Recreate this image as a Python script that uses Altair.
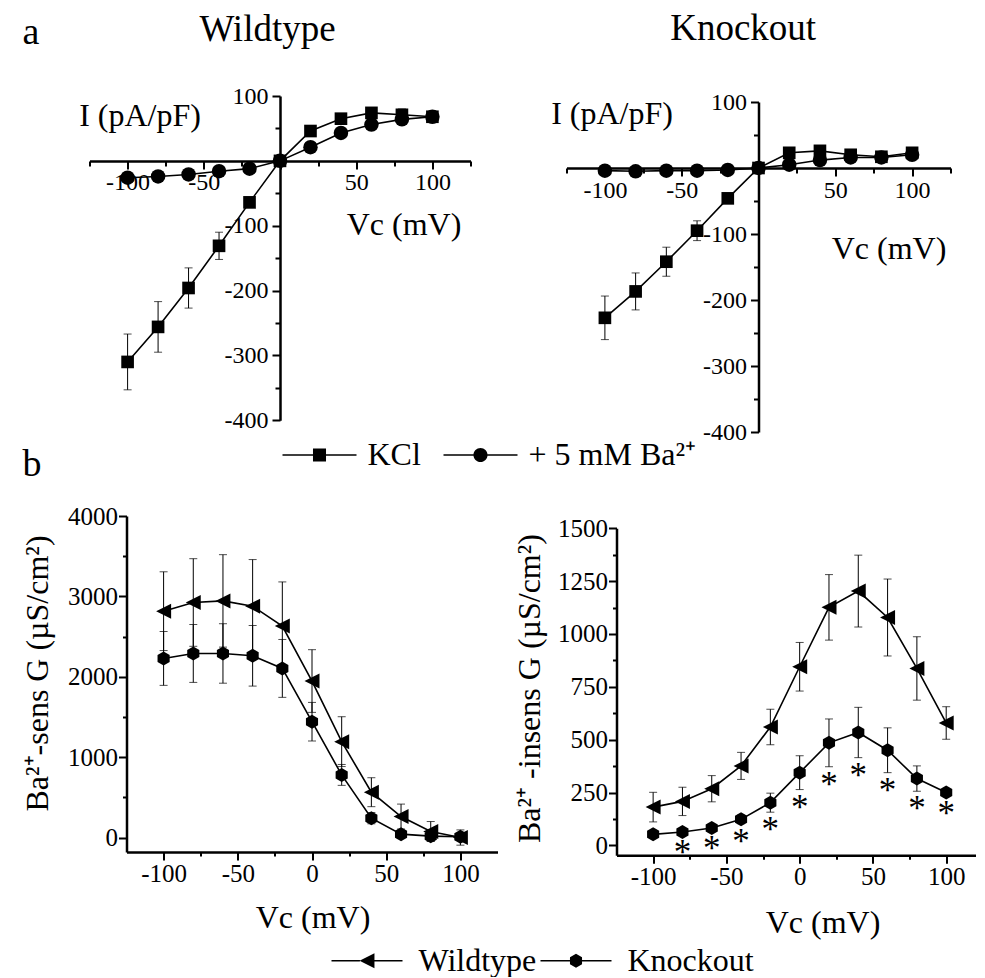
import altair as alt
import pandas as pd

FONT = "Liberation Serif"

vc = [-100, -80, -60, -40, -20, 0, 20, 40, 60, 80, 100]

# panel a - Wildtype
wt_kcl     = [-310, -256, -196, -131, -64, 0, 46, 65, 74, 71, 68]
wt_kcl_err = [43, 39, 31, 21, 8, 2, 5, 6, 8, 9, 9]
wt_ba      = [-26, -24, -21, -16, -12, 0, 21, 43, 56, 64, 68]
wt_ba_err  = [6, 4, 4, 4, 3, 2, 3, 4, 5, 5, 6]
# panel a - Knockout
ko_kcl     = [-227, -187, -142, -95, -46, 0, 23, 26, 20, 17, 23]
ko_kcl_err = [33, 28, 22, 15, 6, 2, 4, 4, 4, 4, 4]
ko_ba      = [-4, -5, -4, -4, -3, 0, 5, 12, 16, 16, 20]
ko_ba_err  = [3, 3, 3, 3, 3, 2, 3, 3, 3, 3, 3]
# panel b - Ba-sensitive conductance
sens_wt     = [2816, 2924, 2944, 2878, 2630, 1947, 1193, 564, 261, 75, 0]
sens_wt_err = [490, 545, 575, 580, 550, 390, 310, 180, 155, 124, 95]
sens_ko     = [2228, 2290, 2290, 2261, 2104, 1441, 779, 241, 42, 17, 10]
sens_ko_err = [335, 360, 370, 377, 360, 240, 130, 70, 30, 60, 40]
# panel b - Ba-insensitive conductance
ins_wt     = [181, 208, 268, 376, 560, 845, 1126, 1203, 1078, 837, 579]
ins_wt_err = [70, 67, 62, 64, 84, 115, 155, 170, 182, 150, 77]
ins_ko     = [52, 63, 82, 123, 202, 344, 485, 534, 450, 316, 250]
ins_ko_err = [15, 15, 15, 20, 45, 80, 113, 119, 106, 60, 15]
ins_sig    = [False, True, True, True, True, True, True, True, True, True, True]

cond_labels = ["KCl", "+ 5 mM Ba²⁺"]
geno_labels = ["Wildtype", "Knockout"]


def make_df(series):
    rows = []
    for name, vals, errs in series:
        for x, v, e in zip(vc, vals, errs):
            rows.append({"vc": x, "val": v, "lo": v - e, "hi": v + e, "series": name})
    return pd.DataFrame(rows)


df_wt = make_df([(cond_labels[0], wt_kcl, wt_kcl_err), (cond_labels[1], wt_ba, wt_ba_err)])
df_ko = make_df([(cond_labels[0], ko_kcl, ko_kcl_err), (cond_labels[1], ko_ba, ko_ba_err)])
df_sens = make_df([(geno_labels[0], sens_wt, sens_wt_err), (geno_labels[1], sens_ko, sens_ko_err)])
df_ins = make_df([(geno_labels[0], ins_wt, ins_wt_err), (geno_labels[1], ins_ko, ins_ko_err)])
df_ast = pd.DataFrame({
    "vc": [x for x, s in zip(vc, ins_sig) if s],
    "lo": [v - e for v, e, s in zip(ins_ko, ins_ko_err, ins_sig) if s],
})

# marker shapes
TRI = "M-1,0L1,-1L1,1Z"
HEX = "M0,-1L0.866,-0.5L0.866,0.5L0,1L-0.866,0.5L-0.866,-0.5Z"
# legend symbols: line + marker
LEG_SQ = ("M-1,-0.02L-0.17,-0.02L-0.17,0.02L-1,0.02Z M0.17,-0.02L1,-0.02L1,0.02L0.17,0.02Z "
          "M-0.176,-0.176L0.176,-0.176L0.176,0.176L-0.176,0.176Z")
LEG_CI = ("M-1,-0.02L-0.18,-0.02L-0.18,0.02L-1,0.02Z M0.18,-0.02L1,-0.02L1,0.02L0.18,0.02Z "
          "M-0.19,0A0.19,0.19,0,1,1,0.19,0A0.19,0.19,0,1,1,-0.19,0Z")
LEG_TRI = ("M-1,-0.021L-0.2,-0.021L-0.2,0.021L-1,0.021Z M0.2,-0.021L1,-0.021L1,0.021L0.2,0.021Z "
           "M-0.21,0L0.21,-0.21L0.21,0.21Z")
LEG_HEX = ("M-1,-0.021L-0.16,-0.021L-0.16,0.021L-1,0.021Z M0.16,-0.021L1,-0.021L1,0.021L0.16,0.021Z "
           "M0,-0.197L0.17,-0.0985L0.17,0.0985L0,0.197L-0.17,0.0985L-0.17,-0.0985Z")

CELL_W, CELL_H = 409, 352


def tick_cond(step, big, small):
    return {"condition": {"test": f"abs(datum.value) % {step} === 0", "value": big}, "value": small}


def panel(df, xdom, ydom, xrange, yrange, xax, yax, markers, cap_w, legend=None, extra=None):
    xs = alt.Scale(domain=xdom, range=xrange, nice=False, zero=False)
    ys = alt.Scale(domain=ydom, range=yrange, nice=False, zero=False)
    xenc = alt.X("vc:Q", scale=xs, axis=xax)

    def yenc(f):
        return alt.Y(f"{f}:Q", scale=ys, axis=yax)

    base = alt.Chart(df)
    layers = [
        base.mark_line(color="black", strokeWidth=1.6).encode(x=xenc, y=yenc("val"), detail="series:N"),
        base.mark_rule(color="black", strokeWidth=1).encode(x=xenc, y=yenc("lo"), y2="hi:Q"),
        base.mark_tick(color="black", orient="horizontal", size=cap_w, thickness=1).encode(x=xenc, y=yenc("lo")),
        base.mark_tick(color="black", orient="horizontal", size=cap_w, thickness=1).encode(x=xenc, y=yenc("hi")),
    ]
    for s, sh, sz in markers:
        layers.append(
            base.transform_filter(alt.datum.series == s)
            .mark_point(shape=sh, filled=True, size=sz, color="black", opacity=1, strokeWidth=0)
            .encode(x=xenc, y=yenc("val"))
        )
    if extra is not None:
        layers.append(extra(xenc, yenc))
    if legend is not None:
        names, paths, leg = legend
        layers.append(
            base.transform_filter("false")
            .mark_point(filled=True, color="black", opacity=1, strokeWidth=0)
            .encode(x=xenc, y=yenc("val"),
                    shape=alt.Shape("series:N", scale=alt.Scale(domain=names, range=paths), legend=leg))
        )
    return alt.layer(*layers).properties(width=CELL_W, height=CELL_H)


def iv_axes(x0, y0, xtx, xty, ytx, yty):
    xax = alt.Axis(
        orient="bottom", offset=-(CELL_H - y0), values=list(range(-125, 126, 25)),
        labelExpr="datum.value % 50 === 0 && datum.value !== 0 ? '' + datum.value : ''",
        tickSize=tick_cond(50, 8, 5), labelFontSize=24, labelPadding=2,
        title="Vc (mV)", titleFontSize=32, titleX=xtx, titleY=xty,
        titleAlign="center", titleBaseline="alphabetic", titleAngle=0,
    )
    yax = alt.Axis(
        orient="left", offset=-x0, values=list(range(-400, 101, 50)),
        labelExpr="datum.value % 100 === 0 && datum.value !== 0 ? '' + datum.value : ''",
        tickSize=tick_cond(100, 8, 5), labelFontSize=24, labelPadding=4,
        title="I (pA/pF)", titleFontSize=32, titleX=ytx, titleY=yty,
        titleAlign="center", titleBaseline="alphabetic", titleAngle=0,
    )
    return xax, yax


def g_axes(ytitle, ystep, ylab, ymax, xoff, yoff, xtx, xty, ytx, yty):
    xax = alt.Axis(
        orient="bottom", offset=xoff, values=list(range(-100, 101, 25)),
        labelExpr="datum.value % 50 === 0 ? '' + datum.value : ''",
        tickSize=tick_cond(50, 8, 4), labelFontSize=25, labelPadding=1,
        title="Vc (mV)", titleFontSize=32, titleX=xtx, titleY=xty,
        titleAlign="center", titleBaseline="alphabetic", titleAngle=0,
    )
    yax = alt.Axis(
        orient="left", offset=yoff, values=list(range(0, ymax + 1, ystep)),
        labelExpr=f"datum.value % {ylab} === 0 ? '' + datum.value : ''",
        tickSize=tick_cond(ylab, 8, 4), labelFontSize=25, labelPadding=1,
        title=ytitle, titleFontSize=32, titleX=ytx, titleY=yty,
        titleAlign="center", titleBaseline="alphabetic", titleAngle=-90,
    )
    return xax, yax


iv_markers = [(cond_labels[0], "square", 160), (cond_labels[1], "circle", 210)]
g_markers = [(geno_labels[0], TRI, 225), (geno_labels[1], HEX, 196)]

# ---- panel a : Wildtype ----
xa, ya = iv_axes(190.5, 64.9, 314, 74, -140.5, 29.3)
top_leg = alt.Legend(
    title=None, orient="none", legendX=193, legendY=322, direction="horizontal",
    symbolSize=74 * 74, symbolFillColor="black", symbolStrokeWidth=0, symbolOpacity=1,
    labelFont=FONT, labelFontSize=32, labelColor="black", labelOffset=11,
    columnPadding=22, padding=0, labelLimit=0,
)
TL = panel(df_wt, [-125, 125], [-400, 100], [0, 381], [324.3, 0], xa, ya, iv_markers, 8,
           legend=(cond_labels, [LEG_SQ, LEG_CI], top_leg)).properties(
    title=alt.Title("Wildtype", fontSize=37, anchor="middle", frame="group", dx=-26.5,
                    baseline="alphabetic", offset=6))

# ---- panel a : Knockout ----
xb, yb = iv_axes(192, 72, 322, 90, -147, 27)
TR = panel(df_ko, [-125, 125], [-400, 100], [0, 384], [336, 6], xb, yb, iv_markers, 8).properties(
    title=alt.Title("Knockout", fontSize=37, anchor="middle", frame="group", dx=-27.8,
                    baseline="alphabetic", offset=13))

# ---- panel b : Ba-sensitive ----
xc, yc = g_axes("Ba²⁺-sens G (µS/cm²)", 500, 1000, 4000, -16, -37, 223, 75, -79, 157)
bot_leg = alt.Legend(
    title=None, orient="none", legendX=242, legendY=409, direction="horizontal",
    symbolSize=71 * 71, symbolFillColor="black", symbolStrokeWidth=0, symbolOpacity=1,
    labelFont=FONT, labelFontSize=32, labelColor="black", labelOffset=16,
    columnPadding=4, padding=0, labelLimit=0,
)
BL = panel(df_sens, [-125, 125], [-180, 4000], [37, 408], [336, 0], xc, yc, g_markers, 8,
           legend=(geno_labels, [LEG_TRI, LEG_HEX], bot_leg)).properties(
    title=alt.Title("b", fontSize=38, anchor="start", frame="bounds",
                    baseline="alphabetic", dx=1, offset=-10))

# ---- panel b : Ba-insensitive ----
xd, yd = g_axes("Ba²⁺ -insens G (µS/cm²)", 125, 250, 1500, -12.7, -50, 256, 77, -77, 172)


def asterisks(xenc, yenc):
    return alt.Chart(df_ast).mark_text(text="*", font=FONT, fontSize=35, color="black",
                                       baseline="middle", dy=18).encode(x=xenc, y=yenc("lo"))


BR = panel(df_ins, [-125, 120], [-47, 1500], [50, 409], [339.3, 12.3], xd, yd, g_markers, 8,
           extra=asterisks)

chart = (
    alt.concat(TL, TR, BL, BR, columns=2, spacing=68, bounds="flush")
    .resolve_scale(shape="independent")
    .properties(
        title=alt.Title("a", fontSize=38, anchor="start", frame="bounds",
                        baseline="alphabetic", dx=1, offset=-72),
        padding={"left": 13.5, "top": 2, "right": 0, "bottom": 0},
    )
    .configure_view(stroke=None)
    .configure_axis(labelFont=FONT, titleFont=FONT, labelColor="black", titleColor="black",
                    domainColor="black", tickColor="black", domainWidth=2.5, tickWidth=2,
                    grid=False, titleFontWeight="normal", labelFlush=False, labelOverlap=False)
    .configure_title(font=FONT, fontWeight="normal", color="black")
    .configure_legend(labelFont=FONT, labelColor="black")
)

chart.save("out.html", embed_options={"renderer": "svg", "actions": False})
